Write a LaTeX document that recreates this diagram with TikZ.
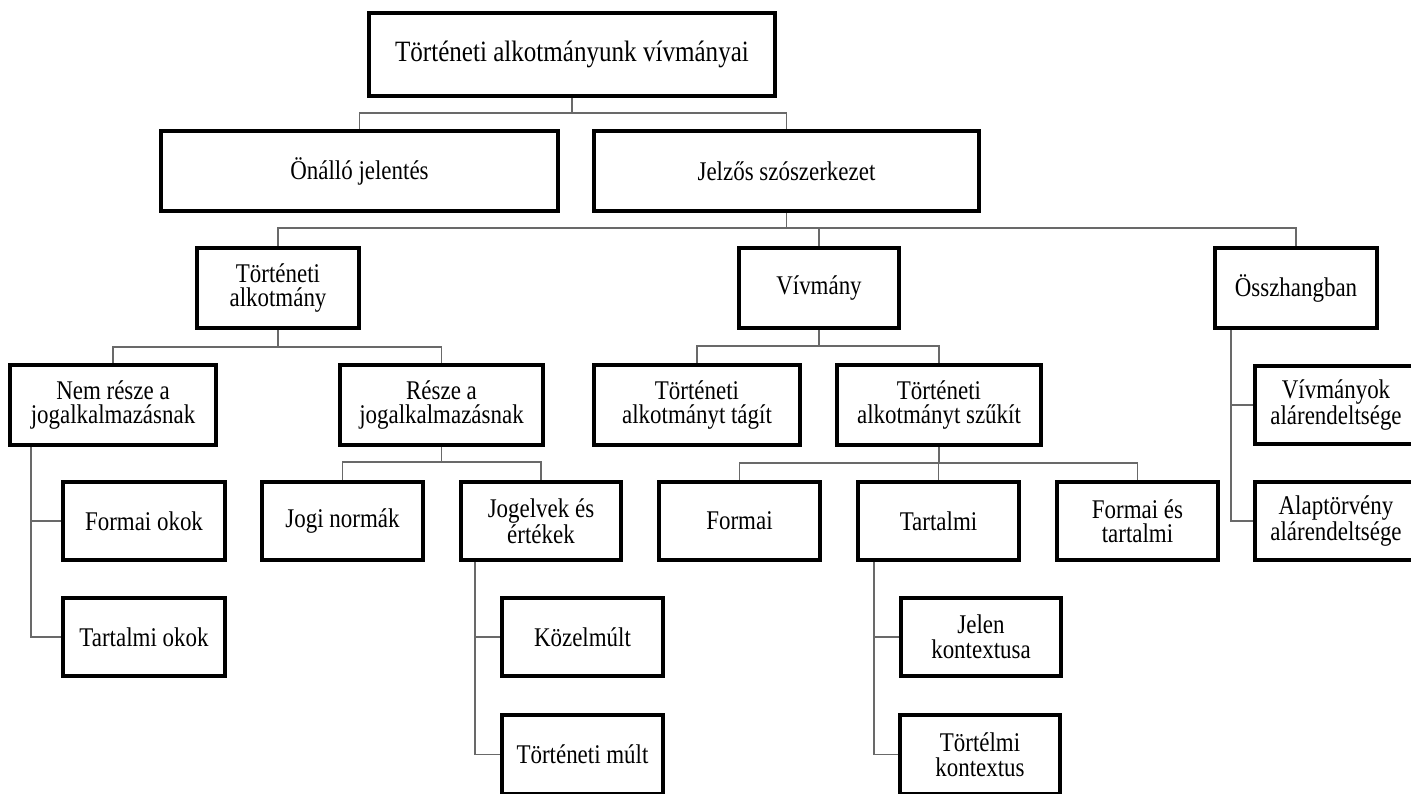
\documentclass[tikz,border=0pt]{standalone}
\usepackage{fontspec}
\setmainfont{Liberation Serif}[FakeStretch=0.85]
\definecolor{linegray}{RGB}{105,105,105}
\tikzset{
  box/.style={draw=black, line width=4pt, rectangle, align=center, inner sep=2pt,
    font=\fontsize{27}{24.5}\selectfont, minimum height=78pt},
  conn/.style={draw=linegray, line width=1.6pt},
}
\begin{document}
\begin{tikzpicture}[x=1pt,y=-1pt]
\useasboundingbox (0,0) rectangle (1411,793);
% level 0
\node[box, minimum width=406pt, minimum height=83pt, font=\fontsize{29.5}{27}\selectfont] (root) at (572,54.5) {Történeti alkotmányunk vívmányai};
% level 1
\node[box, minimum width=397pt, minimum height=80pt] (onallo) at (359.5,171) {Önálló jelentés};
\node[box, minimum width=385pt, minimum height=80pt] (jelzos) at (786.5,171) {Jelzős szószerkezet};
% level 2
\node[box, minimum width=162pt, minimum height=80pt] (tortalk) at (278,288) {Történeti\\alkotmány};
\node[box, minimum width=160pt, minimum height=80pt] (vivmany) at (819,288) {Vívmány};
\node[box, minimum width=162pt, minimum height=80pt] (osszh) at (1296,288) {Összhangban};
% level 3
\node[box, minimum width=206pt, minimum height=80pt] (nemresze) at (113,405) {Nem része a\\jogalkalmazásnak};
\node[box, minimum width=203pt, minimum height=80pt] (resze) at (441.5,405) {Része a\\jogalkalmazásnak};
\node[box, minimum width=206pt, minimum height=80pt] (tagit) at (697,405) {Történeti\\alkotmányt tágít};
\node[box, minimum width=204pt, minimum height=80pt] (szukit) at (939,405) {Történeti\\alkotmányt szűkít};
\node[box, minimum width=162pt, minimum height=78pt] (vivalar) at (1336,405) {Vívmányok\\alárendeltsége};
% level 4
\node[box, minimum width=162pt] (formaiokok) at (144,521) {Formai okok};
\node[box, minimum width=161pt] (joginorm) at (342.5,521) {Jogi normák};
\node[box, minimum width=160pt] (jogelvek) at (541,521) {Jogelvek és\\értékek};
\node[box, minimum width=161pt] (formai) at (739.5,521) {Formai};
\node[box, minimum width=161pt] (tartalmi) at (938.5,521) {Tartalmi};
\node[box, minimum width=161pt] (formtart) at (1137.5,521) {Formai és\\tartalmi};
\node[box, minimum width=162pt] (alaptv) at (1336,521) {Alaptörvény\\alárendeltsége};
% level 5
\node[box, minimum width=162pt] (tartokok) at (144,637) {Tartalmi okok};
\node[box, minimum width=161pt] (kozelmult) at (582.5,637) {Közelmúlt};
\node[box, minimum width=160pt] (jelen) at (981,637) {Jelen\\kontextusa};
% level 6
\node[box, minimum width=161pt, minimum height=79pt] (tortmult) at (582.5,754.5) {Történeti múlt};
\node[box, minimum width=160pt, minimum height=79pt] (tortelmi) at (980,754.5) {Törtélmi\\kontextus};
% connectors: buses
\draw[conn] (root.south) -- ++(0,15) -| (onallo.north);
\draw[conn] (root.south) -- ++(0,15) -| (jelzos.north);
\draw[conn] (jelzos.south) -- ++(0,15) -| (tortalk.north);
\draw[conn] (jelzos.south) -- ++(0,15) -| (vivmany.north);
\draw[conn] (jelzos.south) -- ++(0,15) -| (osszh.north);
\draw[conn] (tortalk.south) -- ++(0,17) -| (nemresze.north);
\draw[conn] (tortalk.south) -- ++(0,17) -| (resze.north);
\draw[conn] (vivmany.south) -- ++(0,16) -| (tagit.north);
\draw[conn] (vivmany.south) -- ++(0,16) -| (szukit.north);
\draw[conn] (resze.south) -- ++(0,15) -| (joginorm.north);
\draw[conn] (resze.south) -- ++(0,15) -| (jogelvek.north);
\draw[conn] (szukit.south) -- ++(0,16) -| (formai.north);
\draw[conn] (szukit.south) -- ++(0,16) -| (tartalmi.north);
\draw[conn] (szukit.south) -- ++(0,16) -| (formtart.north);
% connectors: side branches
\draw[conn] ([xshift=23pt]nemresze.south west) |- (formaiokok.west);
\draw[conn] ([xshift=23pt]nemresze.south west) |- (tartokok.west);
\draw[conn] ([xshift=16pt]jogelvek.south west) |- (kozelmult.west);
\draw[conn] ([xshift=16pt]jogelvek.south west) |- (tortmult.west);
\draw[conn] ([xshift=18pt]tartalmi.south west) |- (jelen.west);
\draw[conn] ([xshift=18pt]tartalmi.south west) |- (tortelmi.west);
\draw[conn] ([xshift=18pt]osszh.south west) |- (vivalar.west);
\draw[conn] ([xshift=18pt]osszh.south west) |- (alaptv.west);
\end{tikzpicture}
\end{document}
